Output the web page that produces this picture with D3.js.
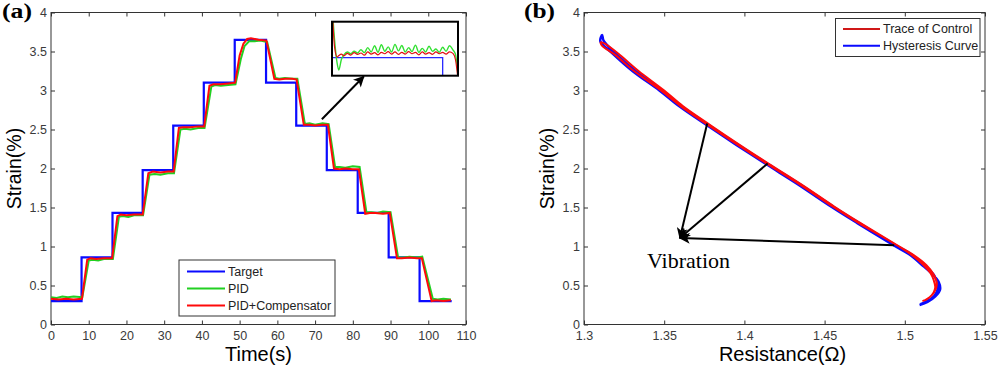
<!DOCTYPE html>
<html>
<head>
<meta charset="utf-8">
<script src="https://cdnjs.cloudflare.com/ajax/libs/d3/7.8.5/d3.min.js"></script>
<style>
body { margin: 0; background: #fff; }
svg text { font-family: "Liberation Sans", Arial, sans-serif; }
</style>
</head>
<body>
<div id="chart"></div>
<script>
// ---- panel (a): step response ----
var targetTimes = [0, 8.1, 16.3, 24.3, 32.4, 40.5, 48.7, 57.0, 65.0, 73.1, 81.3, 89.5, 97.7, 106.2];
var targetLevels = [0.3, 0.86, 1.43, 1.98, 2.55, 3.1, 3.65, 3.1, 2.55, 1.98, 1.43, 0.86, 0.3, 0.3];

var pidTimes = [0, 1.5, 3, 4.5, 6, 8.3, 10.0, 11, 12.5, 14, 16.4, 18.0, 19, 20.5, 22, 24.4, 26.1, 27.5, 29, 31, 32.6,
    34.3, 35.5, 37, 39, 40.7, 42.5, 43.5, 45, 47, 48.9, 50.3, 51.3, 52.5, 54, 55.5, 57.3, 59.5, 60.5, 62, 64, 65.3,
    67.3, 68.5, 70, 72, 73.6, 75.3, 76.5, 78, 80, 81.8, 83.6, 85, 86.5, 88, 90.0, 92.0, 93.5, 95, 97, 98.4,
    101.2, 102.5, 104, 106];
var pidStrain = [0.35, 0.34, 0.36, 0.35, 0.36, 0.35, 0.82, 0.83, 0.82, 0.84, 0.84, 1.38, 1.39, 1.38, 1.40, 1.40, 1.92, 1.93, 1.92, 1.94, 1.94,
    2.50, 2.51, 2.50, 2.52, 2.52, 3.05, 3.07, 3.06, 3.07, 3.08, 3.40, 3.57, 3.63, 3.63, 3.64, 3.62, 3.16, 3.15, 3.16, 3.15, 3.15,
    2.57, 2.58, 2.56, 2.58, 2.57, 2.02, 2.02, 2.01, 2.03, 2.02, 1.44, 1.44, 1.43, 1.45, 1.44, 0.86, 0.86, 0.87, 0.86, 0.87,
    0.33, 0.32, 0.33, 0.32];

var compTimes = [0, 2, 4, 6, 8.2, 9.6, 10.5, 12, 14, 16.2, 17.6, 18.5, 20, 22, 24.3, 25.8, 27, 29, 31, 32.5,
    33.9, 35, 37, 39, 40.6, 42.0, 43, 45, 47, 48.8, 50, 51, 52, 53, 55, 57.1, 59.2, 60.5, 62, 64, 65.1,
    67, 68.5, 70, 72, 73.4, 75.0, 76.5, 78, 80, 81.6, 83.3, 84.5, 86, 88, 89.8, 91.7, 93, 95, 97, 98.3,
    100.9, 102, 104, 106];
var compStrain = [0.33, 0.32, 0.33, 0.32, 0.33, 0.83, 0.85, 0.84, 0.85, 0.85, 1.39, 1.41, 1.40, 1.41, 1.41, 1.94, 1.96, 1.95, 1.96, 1.96,
    2.52, 2.53, 2.53, 2.54, 2.54, 3.06, 3.08, 3.08, 3.09, 3.10, 3.45, 3.60, 3.66, 3.67, 3.65, 3.64, 3.15, 3.14, 3.15, 3.15, 3.14,
    2.56, 2.56, 2.55, 2.56, 2.56, 2.00, 1.99, 2.00, 1.99, 1.99, 1.42, 1.43, 1.43, 1.42, 1.43, 0.85, 0.85, 0.86, 0.85, 0.85,
    0.30, 0.31, 0.30, 0.31];

// zoomed view of the 2.55 plateau
var insetTimes = [66.6, 66.75, 66.9, 67.0, 67.15, 67.3, 67.5, 67.7, 67.9, 68.1, 68.3, 68.5, 68.7, 68.9, 69.1, 69.3, 69.5, 69.7, 69.9, 70.1,
    70.3, 70.5, 70.7, 70.9, 71.1, 71.3, 71.5, 71.7, 71.9, 72.1, 72.3, 72.5, 72.7, 72.9, 73.1, 73.3, 73.5, 73.7, 73.85, 74.0];
var insetPid = [2.70, 2.60, 2.535, 2.516, 2.545, 2.558, 2.566, 2.561, 2.568, 2.563, 2.572, 2.564, 2.578, 2.566, 2.583, 2.565, 2.586, 2.568, 2.580, 2.566,
    2.587, 2.569, 2.584, 2.566, 2.578, 2.567, 2.585, 2.565, 2.576, 2.566, 2.582, 2.568, 2.574, 2.565, 2.579, 2.568, 2.583, 2.572, 2.56, 2.50];
var insetComp = [2.70, 2.58, 2.552, 2.556, 2.560, 2.555, 2.562, 2.557, 2.564, 2.559, 2.563, 2.557, 2.566, 2.560, 2.564, 2.558, 2.565, 2.561, 2.567, 2.560,
    2.566, 2.559, 2.565, 2.560, 2.567, 2.561, 2.565, 2.558, 2.566, 2.560, 2.564, 2.559, 2.566, 2.561, 2.565, 2.560, 2.566, 2.562, 2.545, 2.49];

var timeTicks = [0, 10, 20, 30, 40, 50, 60, 70, 80, 90, 100, 110];
var strainTicks = [0, 0.5, 1, 1.5, 2, 2.5, 3, 3.5, 4];
var legendA = ["Target", "PID", "PID+Compensator"];

// ---- panel (b): strain vs resistance (loading branch then unloading branch) ----
var hystR = [1.5092, 1.5142, 1.5190, 1.5220, 1.5210, 1.5170, 1.5115, 1.5027, 1.4927, 1.4704, 1.4542, 1.4332, 1.4132, 1.3952, 1.3762,
    1.3592, 1.3470, 1.3302, 1.3175, 1.3102, 1.3113,
    1.3122, 1.3195, 1.3322, 1.3486, 1.3606, 1.3775, 1.3964, 1.4144, 1.4344, 1.4554, 1.4716, 1.4940, 1.5040, 1.5128,
    1.5183, 1.5205, 1.5200, 1.5165, 1.5120, 1.5098];
var hystS = [0.25, 0.29, 0.36, 0.45, 0.55, 0.65, 0.75, 0.90, 1.02, 1.30, 1.51, 1.80, 2.06, 2.30, 2.56,
    2.80, 3.00, 3.25, 3.48, 3.63, 3.71,
    3.64, 3.48, 3.25, 3.00, 2.80, 2.56, 2.30, 2.06, 1.80, 1.51, 1.30, 1.02, 0.90, 0.75,
    0.63, 0.52, 0.42, 0.33, 0.28, 0.26];

var traceR = [1.5110, 1.5150, 1.5180, 1.5190, 1.5180, 1.5160, 1.5118, 1.5037, 1.4940, 1.4714, 1.4552, 1.4342, 1.4142, 1.3962, 1.3772,
    1.3602, 1.3480, 1.3312, 1.3192, 1.3110, 1.3105,
    1.3130, 1.3215, 1.3340, 1.3500, 1.3616, 1.3784, 1.3972, 1.4152, 1.4352, 1.4562, 1.4724, 1.4948, 1.5048, 1.5135,
    1.5180, 1.5200, 1.5185, 1.5155, 1.5125];
var traceS = [0.30, 0.34, 0.41, 0.48, 0.57, 0.66, 0.76, 0.90, 1.03, 1.30, 1.51, 1.80, 2.06, 2.30, 2.56,
    2.80, 3.00, 3.25, 3.46, 3.58, 3.62,
    3.60, 3.47, 3.25, 3.00, 2.80, 2.56, 2.30, 2.06, 1.80, 1.51, 1.30, 1.02, 0.90, 0.76,
    0.64, 0.52, 0.42, 0.35, 0.31];

var resTicks = [1.3, 1.35, 1.4, 1.45, 1.5, 1.55];
var legendB = ["Trace of Control", "Hysteresis Curve"];

// annotation anchors in data units
var vibTip = [1.3598, 1.11];
var vibFrom = [[1.3768, 2.577], [1.4145, 2.064], [1.4934, 1.017]];

var width = 1000;
var height = 372;
var boxA = { left: 51, right: 466, top: 12.5, bottom: 324.5 };
var boxB = { left: 584, right: 985, top: 12.5, bottom: 324.5 };

var blue = "#0a0aff";
var green = "#22d022";
var red = "#ff0a0a";

var svg = d3.select("#chart")
    .append("svg")
    .attr("width", width)
    .attr("height", height);

var defs = svg.append("defs");
defs.append("marker")
    .attr("id", "head")
    .attr("viewBox", "0 0 10 10")
    .attr("refX", 9)
    .attr("refY", 5)
    .attr("markerUnits", "userSpaceOnUse")
    .attr("markerWidth", 12)
    .attr("markerHeight", 11)
    .attr("orient", "auto")
    .append("path")
    .attr("d", "M0,0 L10,5 L0,10 L2.5,5 Z")
    .attr("fill", "#000");

function fmt(d) { return d3.format("~g")(d); }

// MATLAB style box: ticks inward on all four sides
function frame(box, x, y, xTicks, yTicks) {
    var g = svg.append("g");
    g.append("g")
        .attr("transform", "translate(0," + box.bottom + ")")
        .call(d3.axisBottom(x).tickValues(xTicks).tickFormat(fmt).tickSizeInner(-4).tickSizeOuter(0).tickPadding(7));
    g.append("g")
        .attr("transform", "translate(0," + box.top + ")")
        .call(d3.axisTop(x).tickValues(xTicks).tickFormat("").tickSizeInner(-4).tickSizeOuter(0));
    g.append("g")
        .attr("transform", "translate(" + box.left + ",0)")
        .call(d3.axisLeft(y).tickValues(yTicks).tickFormat(fmt).tickSizeInner(-4).tickSizeOuter(0).tickPadding(4));
    g.append("g")
        .attr("transform", "translate(" + box.right + ",0)")
        .call(d3.axisRight(y).tickValues(yTicks).tickFormat("").tickSizeInner(-4).tickSizeOuter(0));
    g.selectAll(".domain").remove();
    g.selectAll(".tick line").attr("stroke", "#333");
    g.selectAll(".tick text")
        .attr("fill", "#3a3a3a")
        .style("font-size", "12.5px");
    g.append("rect")
        .attr("x", box.left)
        .attr("y", box.top)
        .attr("width", box.right - box.left)
        .attr("height", box.bottom - box.top)
        .attr("fill", "none")
        .attr("stroke", "#333")
        .attr("stroke-width", 1);
}

function zip(a, b) {
    return a.map(function(v, i) { return [v, b[i]]; });
}

// ================= panel (a) =================
var xA = d3.scaleLinear().domain([0, 110]).range([boxA.left, boxA.right]);
var yA = d3.scaleLinear().domain([0, 4]).range([boxA.bottom, boxA.top]);
frame(boxA, xA, yA, timeTicks, strainTicks);

var lineA = d3.line()
    .x(function(d) { return xA(d[0]); })
    .y(function(d) { return yA(d[1]); });

svg.append("path")
    .attr("d", lineA.curve(d3.curveStepAfter)(zip(targetTimes, targetLevels)))
    .attr("fill", "none").attr("stroke", blue).attr("stroke-width", 2.2);
lineA.curve(d3.curveLinear);
svg.append("path")
    .attr("d", lineA(zip(pidTimes, pidStrain)))
    .attr("fill", "none").attr("stroke", green).attr("stroke-width", 2);
svg.append("path")
    .attr("d", lineA(zip(compTimes, compStrain)))
    .attr("fill", "none").attr("stroke", red).attr("stroke-width", 2);

// legend (a)
var legA = svg.append("g");
legA.append("rect")
    .attr("x", 179).attr("y", 260).attr("width", 156).attr("height", 56)
    .attr("fill", "#fff").attr("stroke", "#333").attr("stroke-width", 1);
var colA = [blue, green, red];
legendA.forEach(function(name, i) {
    var yy = 271.5 + i * 17;
    legA.append("line")
        .attr("x1", 187).attr("x2", 225).attr("y1", yy).attr("y2", yy)
        .attr("stroke", colA[i]).attr("stroke-width", 2);
    legA.append("text")
        .attr("x", 228).attr("y", yy).attr("dy", "0.35em")
        .style("font-size", "12.5px").attr("fill", "#222")
        .text(name);
});

// inset: zoom of the 2.55 step
var inBox = { left: 332, right: 458, top: 21.7, bottom: 75.7 };
var xIn = d3.scaleLinear().domain([66.6, 74.0]).range([inBox.left, inBox.right]);
var yIn = d3.scaleLinear().domain([2.50, 2.65]).range([inBox.bottom, inBox.top]);
defs.append("clipPath").attr("id", "inclip")
    .append("rect")
    .attr("x", inBox.left).attr("y", inBox.top)
    .attr("width", inBox.right - inBox.left).attr("height", inBox.bottom - inBox.top);
svg.append("rect")
    .attr("x", inBox.left).attr("y", inBox.top)
    .attr("width", inBox.right - inBox.left).attr("height", inBox.bottom - inBox.top)
    .attr("fill", "#fff");
var inG = svg.append("g").attr("clip-path", "url(#inclip)");
var lineIn = d3.line()
    .x(function(d) { return xIn(d[0]); })
    .y(function(d) { return yIn(d[1]); });
inG.append("path")
    .attr("d", lineIn.curve(d3.curveStepAfter)(zip(targetTimes, targetLevels)))
    .attr("fill", "none").attr("stroke", "#2a2aff").attr("stroke-width", 1.3);
lineIn.curve(d3.curveMonotoneX);
inG.append("path")
    .attr("d", lineIn(zip(insetTimes, insetPid)))
    .attr("fill", "none").attr("stroke", "#33e033").attr("stroke-width", 1.4);
inG.append("path")
    .attr("d", lineIn(zip(insetTimes, insetComp)))
    .attr("fill", "none").attr("stroke", "#e01010").attr("stroke-width", 1.2);
svg.append("rect")
    .attr("x", inBox.left).attr("y", inBox.top)
    .attr("width", inBox.right - inBox.left).attr("height", inBox.bottom - inBox.top)
    .attr("fill", "none").attr("stroke", "#000").attr("stroke-width", 2);

// arrow from the plateau to the inset
svg.append("line")
    .attr("x1", xA(71.8)).attr("y1", yA(2.632))
    .attr("x2", xA(82.9)).attr("y2", yA(3.18))
    .attr("stroke", "#000").attr("stroke-width", 2)
    .attr("marker-end", "url(#head)");

svg.append("text")
    .attr("x", (boxA.left + boxA.right) / 2).attr("y", 361)
    .attr("text-anchor", "middle").style("font-size", "20px")
    .text("Time(s)");
svg.append("text")
    .attr("transform", "translate(21," + (boxA.top + boxA.bottom) / 2 + ") rotate(-90)")
    .attr("text-anchor", "middle").style("font-size", "19.5px")
    .text("Strain(%)");
svg.append("text")
    .attr("x", 2).attr("y", 18)
    .attr("textLength", 30).attr("lengthAdjust", "spacingAndGlyphs")
    .style("font-family", "'Liberation Serif', 'Times New Roman', serif")
    .style("font-weight", "bold").style("font-size", "20px")
    .text("(a)");

// ================= panel (b) =================
var xB = d3.scaleLinear().domain([1.3, 1.55]).range([boxB.left, boxB.right]);
var yB = d3.scaleLinear().domain([0, 4]).range([boxB.bottom, boxB.top]);
frame(boxB, xB, yB, resTicks, strainTicks);

var lineB = d3.line()
    .x(function(d) { return xB(d[0]); })
    .y(function(d) { return yB(d[1]); })
    .curve(d3.curveCatmullRom.alpha(0.5));

svg.append("path")
    .attr("d", lineB(zip(hystR, hystS)))
    .attr("fill", "none").attr("stroke", blue).attr("stroke-width", 2.5)
    .attr("stroke-linejoin", "round");
svg.append("path")
    .attr("d", lineB(zip(traceR, traceS)))
    .attr("fill", "none").attr("stroke", red).attr("stroke-width", 2)
    .attr("stroke-linejoin", "round");

// legend (b)
var legB = svg.append("g");
legB.append("rect")
    .attr("x", 835.5).attr("y", 18.5).attr("width", 144.5).attr("height", 38)
    .attr("fill", "#fff").attr("stroke", "#333").attr("stroke-width", 1);
var colB = ["#d01818", blue];
legendB.forEach(function(name, i) {
    var yy = 29 + i * 16.7;
    legB.append("line")
        .attr("x1", 843).attr("x2", 880).attr("y1", yy).attr("y2", yy)
        .attr("stroke", colB[i]).attr("stroke-width", 2);
    legB.append("text")
        .attr("x", 883).attr("y", yy).attr("dy", "0.35em")
        .style("font-size", "12.5px").attr("fill", "#222")
        .text(name);
});

// "Vibration" arrows
vibFrom.forEach(function(p) {
    svg.append("line")
        .attr("x1", xB(p[0])).attr("y1", yB(p[1]))
        .attr("x2", xB(vibTip[0])).attr("y2", yB(vibTip[1]))
        .attr("stroke", "#000").attr("stroke-width", 2)
        .attr("marker-end", "url(#head)");
});
svg.append("text")
    .attr("x", 647).attr("y", 268)
    .style("font-family", "'Liberation Serif', 'Times New Roman', serif")
    .style("font-size", "22px")
    .text("Vibration");

svg.append("text")
    .attr("x", (boxB.left + boxB.right) / 2 - 2).attr("y", 361)
    .attr("text-anchor", "middle").style("font-size", "20px")
    .text("Resistance(\u03A9)");
svg.append("text")
    .attr("transform", "translate(554," + (boxB.top + boxB.bottom) / 2 + ") rotate(-90)")
    .attr("text-anchor", "middle").style("font-size", "19.5px")
    .text("Strain(%)");
svg.append("text")
    .attr("x", 524).attr("y", 18)
    .attr("textLength", 31).attr("lengthAdjust", "spacingAndGlyphs")
    .style("font-family", "'Liberation Serif', 'Times New Roman', serif")
    .style("font-weight", "bold").style("font-size", "20px")
    .text("(b)");
</script>
</body>
</html>
